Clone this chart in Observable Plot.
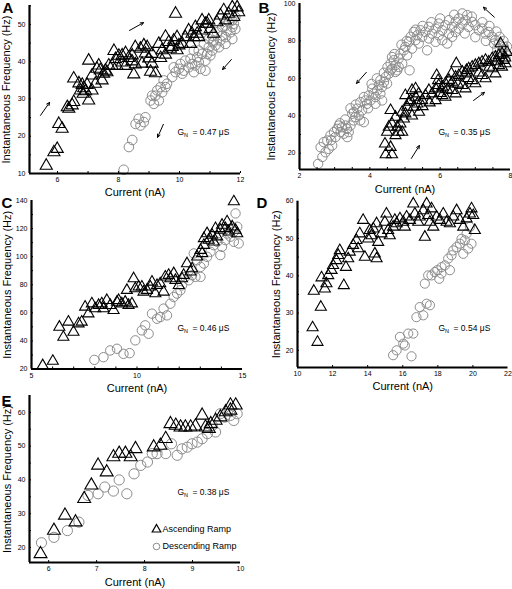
<!DOCTYPE html>
<html><head><meta charset="utf-8">
<script src="https://cdn.jsdelivr.net/npm/d3@7"></script>
<script src="https://cdn.jsdelivr.net/npm/@observablehq/plot@0.6"></script>
<style>
html,body{margin:0;padding:0;background:#fff;}
#chart{position:relative;width:512px;height:589px;overflow:hidden;background:#fff;}
</style></head><body><div id="chart"></div>
<script>
// ---------- DATA ----------
const xLabel = "Current (nA)";
const yLabel = "Instantaneous Frequency (Hz)";
const legendLabels = ["Ascending Ramp", "Descending Ramp"];
const panelLetters = ["A", "B", "C", "D", "E"];
const gnValues = ["0.47", "0.35", "0.46", "0.54", "0.38"];

// Panel A
const aAscending = [[5.63,12.1],[5.88,15.7],[5.99,16.6],[6.04,23.3],[6.15,22.0],[6.32,27.8],[6.37,27.4],[6.48,28.3],[6.53,29.2],[6.53,35.5],[6.70,34.2],[6.81,33.8],[6.86,32.9],[6.97,33.8],[6.92,32.1],[6.75,32.3],[6.84,31.4],[7.02,29.6],[7.02,40.3],[7.13,36.3],[7.29,38.1],[7.40,37.7],[7.51,36.8],[7.62,37.2],[7.35,39.0],[7.79,38.9],[7.90,40.7],[7.85,42.9],[8.01,41.6],[8.12,39.8],[8.23,38.9],[7.95,38.9],[8.23,42.3],[8.33,41.0],[8.44,40.1],[8.55,39.3],[8.50,36.6],[8.72,43.5],[8.83,44.4],[8.88,42.2],[8.99,40.9],[9.10,39.5],[9.05,37.3],[9.21,36.9],[8.77,39.5],[9.32,44.8],[9.43,43.1],[9.54,46.7],[9.65,45.3],[9.76,44.0],[9.92,43.1],[9.98,44.4],[9.38,41.0],[9.54,41.9],[9.87,52.9],[10.19,46.6],[10.30,48.4],[10.41,47.5],[10.52,49.3],[10.63,46.6],[10.74,48.4],[10.85,50.2],[10.96,51.1],[11.01,48.8],[11.12,47.5],[11.23,50.6],[11.34,52.4],[11.45,53.8],[11.51,51.1],[11.61,52.9],[11.73,54.6],[11.78,52.0],[11.89,54.6],[11.94,53.3],[10.09,44.8],[9.81,45.7],[9.92,46.6],[9.70,43.5],[9.10,42.1],[8.94,43.9],[8.55,43.9],[8.45,41.7],[8.12,41.7],[7.68,39.0],[7.57,37.6],[7.46,35.0],[7.24,34.1],[7.13,32.3],[10.74,51.1],[10.91,50.2],[10.47,46.6],[10.36,44.8],[10.58,47.5]];
const aDescending = [[8.17,11.0],[8.34,17.1],[8.45,19.0],[8.66,24.7],[8.83,23.8],[8.72,22.9],[8.56,23.3],[8.88,25.1],[9.05,29.6],[9.21,30.9],[9.32,29.6],[9.16,28.7],[9.27,32.3],[9.10,30.9],[9.43,31.8],[9.54,33.2],[9.48,35.0],[9.59,34.1],[9.38,33.2],[9.76,35.9],[9.87,37.2],[9.81,38.5],[9.98,38.1],[10.09,36.8],[10.03,39.4],[10.19,40.3],[10.14,37.6],[10.30,38.5],[10.41,39.4],[10.36,40.8],[10.52,39.0],[10.63,39.9],[10.58,41.2],[10.74,42.1],[10.69,38.1],[10.85,40.3],[10.91,42.1],[11.01,41.7],[10.96,43.9],[11.07,43.0],[11.18,44.4],[11.12,45.7],[11.29,43.9],[11.34,45.7],[11.40,47.0],[11.51,46.6],[11.56,48.4],[11.67,47.9],[11.73,49.3],[11.78,50.2],[11.83,48.8],[11.51,44.8],[11.73,46.1],[10.85,37.6],[10.47,37.2],[10.47,43.0],[10.63,43.0],[10.80,44.8],[10.96,46.1],[11.07,47.0],[11.23,47.9],[11.40,49.3],[11.51,49.7],[11.62,50.6],[11.73,51.1],[11.83,52.0],[11.11,45.2]];
const aArrows = [[5.44,25.6,5.74,29.1],[8.36,48.4,8.82,50.5],[11.70,40.6,11.41,37.9],[9.47,23.2,9.28,19.7]];

// Panel B
const bAscending = [[4.43,25.0],[4.45,19.3],[4.59,23.2],[4.63,19.3],[4.49,31.3],[4.73,29.5],[4.82,31.3],[4.78,34.0],[4.87,35.7],[4.92,31.3],[4.97,38.4],[5.01,41.1],[4.92,42.0],[5.06,44.7],[5.11,47.3],[5.01,50.9],[5.20,53.6],[5.30,54.5],[5.16,48.2],[5.39,51.8],[5.49,48.2],[5.25,44.7],[5.35,46.4],[5.58,50.9],[5.68,53.6],[5.77,51.8],[5.87,54.5],[5.96,56.3],[6.06,55.4],[6.15,57.2],[6.25,59.0],[6.34,58.0],[6.44,60.7],[6.53,61.6],[6.63,63.4],[6.72,62.5],[6.81,65.2],[6.91,66.1],[7.00,67.0],[7.10,67.9],[7.19,68.8],[7.29,69.7],[7.38,68.8],[7.48,70.6],[7.57,71.4],[7.67,72.3],[7.76,73.2],[7.72,78.6],[7.81,69.7],[5.90,61.6],[5.94,58.9],[6.46,67.9],[6.75,64.3],[6.32,62.5],[5.87,48.2],[6.15,50.0],[6.44,51.8],[6.72,54.5],[7.00,57.2],[7.29,59.9],[7.57,62.5],[7.76,66.1],[7.86,67.9],[6.06,50.9],[6.34,53.6],[6.63,56.3],[6.91,58.9],[7.19,61.6],[7.48,65.2],[7.67,67.0],[4.59,42.9],[4.73,39.3],[4.63,35.7],[4.54,34.0],[5.50,45.0],[5.70,47.0],[6.00,52.0],[6.20,54.0],[6.50,57.0],[6.80,60.0],[7.10,63.0],[7.40,66.0],[7.60,69.0],[7.85,71.0],[7.90,74.0],[5.40,42.0],[5.20,40.0],[5.30,50.0]];
const bDescending = [[2.53,14.3],[2.60,23.2],[2.74,20.5],[2.83,22.3],[2.69,25.9],[2.79,26.8],[2.93,24.1],[2.88,29.5],[2.98,31.3],[3.07,33.0],[3.12,34.8],[3.02,28.6],[3.21,33.9],[3.17,31.3],[3.26,30.4],[3.36,28.6],[3.40,31.3],[3.31,34.8],[3.45,34.8],[3.50,41.1],[3.59,39.3],[3.69,40.2],[3.78,42.9],[3.64,43.8],[3.54,37.5],[3.73,37.5],[3.83,36.6],[3.73,47.3],[3.83,50.0],[3.88,48.2],[3.97,50.9],[3.92,46.4],[4.02,48.2],[4.11,51.8],[4.07,54.5],[4.16,50.0],[4.21,53.6],[4.26,56.3],[4.35,55.4],[4.30,59.0],[4.40,58.0],[4.45,60.7],[4.49,57.2],[4.16,46.4],[4.30,51.8],[4.35,48.2],[4.54,62.5],[4.63,65.2],[4.59,67.9],[4.73,67.0],[4.68,69.7],[4.78,64.3],[4.82,70.6],[4.92,67.9],[4.87,73.2],[4.97,75.0],[5.06,72.3],[5.01,76.8],[5.11,79.5],[5.20,75.9],[5.16,82.2],[5.30,80.4],[5.25,84.8],[5.35,83.0],[5.39,78.6],[5.44,85.7],[5.49,82.2],[4.63,71.4],[4.82,66.1],[4.73,63.4],[4.59,64.3],[5.13,64.3],[5.58,84.8],[5.68,87.5],[5.77,83.9],[5.87,86.6],[5.96,89.3],[6.06,85.7],[6.15,88.4],[6.25,91.1],[6.34,87.5],[6.44,90.2],[6.53,92.0],[6.63,89.3],[6.72,91.1],[6.77,93.8],[6.63,94.7],[6.53,86.6],[6.25,83.9],[5.96,83.0],[6.34,82.2],[6.06,80.4],[5.87,79.5],[5.68,81.3],[6.20,78.6],[6.44,84.8],[6.81,87.5],[6.91,90.2],[7.00,88.4],[7.10,85.7],[7.19,86.6],[7.29,83.9],[7.38,84.8],[7.48,82.2],[7.57,80.4],[7.67,78.6],[7.62,75.9],[7.72,73.2],[7.76,75.0],[7.81,76.8],[7.69,82.2],[7.53,78.6],[7.86,73.2],[7.86,70.6],[5.63,75.0],[3.30,38.0],[3.45,44.0],[3.60,46.0],[3.95,44.0],[4.05,57.0],[4.20,60.0],[4.40,63.0],[4.50,66.0],[4.70,73.0],[4.90,78.0],[5.05,80.0],[5.30,86.0],[5.50,88.0],[5.75,90.0],[6.00,92.0],[6.40,94.0],[6.90,93.0],[7.20,90.0],[7.40,88.0],[7.60,85.0],[7.80,80.0],[7.90,77.0],[7.30,80.0],[7.00,82.0],[6.70,84.0],[2.65,18.0],[2.90,27.0],[3.15,36.0],[3.35,33.0],[3.55,42.0]];
const bArrows = [[7.54,92.7,7.23,98.0],[3.90,63.2,3.62,57.3],[6.95,48.2,7.26,52.5],[5.18,17.2,5.41,24.1]];

// Panel C
const cAscending = [[5.53,22.5],[6.01,25.6],[6.32,49.9],[6.51,42.7],[6.75,53.5],[6.99,46.3],[7.23,52.3],[7.38,53.5],[7.54,64.2],[7.70,59.4],[7.86,66.5],[8.02,63.0],[8.18,65.4],[8.33,66.5],[8.41,63.0],[8.57,68.9],[8.73,65.4],[8.89,61.8],[9.05,67.7],[9.13,68.9],[9.28,66.5],[9.44,67.7],[9.60,65.4],[9.76,66.5],[9.52,76.1],[9.84,84.4],[9.92,77.3],[10.08,78.5],[10.23,78.5],[10.31,74.9],[10.47,76.1],[10.63,78.5],[10.71,82.0],[10.87,73.7],[10.95,79.6],[11.10,80.8],[11.26,74.9],[11.34,85.6],[11.50,86.8],[11.58,84.4],[11.74,88.0],[11.82,83.2],[11.98,79.6],[12.13,84.4],[12.21,86.8],[12.37,95.1],[12.53,89.2],[12.61,91.5],[12.85,99.9],[13.01,104.6],[13.17,108.2],[13.09,102.3],[13.32,116.5],[13.40,111.8],[13.56,115.4],[13.72,120.1],[13.80,114.2],[13.95,118.9],[14.03,122.5],[14.19,120.1],[14.27,124.9],[14.35,117.7],[14.51,121.3],[14.59,139.2],[14.67,118.9],[14.75,116.5],[13.17,113.0],[13.64,110.6]];
const cDescending = [[7.98,26.5],[8.41,28.4],[8.73,33.2],[9.05,34.4],[9.36,30.8],[9.65,31.3],[9.92,40.4],[10.23,47.5],[10.39,51.1],[10.55,45.1],[10.71,59.4],[10.95,55.8],[11.10,57.0],[11.26,63.0],[11.42,58.2],[11.58,66.5],[11.74,71.3],[11.90,73.7],[12.06,76.1],[12.13,79.6],[12.29,85.6],[12.45,83.2],[12.61,86.8],[12.77,85.6],[13.01,85.6],[12.69,102.3],[12.85,97.5],[13.01,92.7],[13.17,95.1],[13.32,99.9],[13.48,103.5],[13.64,108.2],[13.80,110.6],[13.95,101.1],[14.03,107.0],[14.19,111.8],[14.27,116.5],[14.43,114.2],[14.59,110.6],[14.67,130.8],[14.75,121.3],[14.82,109.4],[14.59,117.7]];

// Panel D
const dAscending = [[10.86,26.1],[11.14,22.2],[11.33,31.6],[10.93,35.9],[11.37,39.5],[11.56,36.5],[11.65,37.9],[11.75,40.1],[11.94,41.5],[12.03,42.8],[12.22,44.1],[12.32,45.5],[12.41,46.8],[12.64,37.4],[12.76,42.3],[12.89,44.6],[12.98,46.4],[13.17,48.2],[13.36,49.5],[13.46,47.3],[13.55,51.3],[13.74,54.9],[13.84,45.0],[14.03,49.9],[14.12,52.2],[14.22,50.8],[14.41,45.9],[14.51,44.6],[14.60,49.0],[14.79,51.3],[14.98,54.4],[15.07,56.6],[15.17,52.2],[15.26,50.8],[15.45,53.1],[15.65,54.0],[15.84,55.3],[16.03,54.4],[16.22,55.8],[16.41,54.9],[16.60,59.3],[16.69,56.6],[16.88,54.4],[16.97,55.8],[17.17,57.5],[17.26,50.4],[17.36,59.3],[17.45,56.2],[17.55,54.4],[17.64,58.0],[17.74,53.1],[17.93,55.8],[18.12,54.9],[18.31,56.6],[18.50,54.4],[18.69,54.0],[18.88,55.8],[19.07,57.5],[19.26,54.9],[19.45,53.1],[19.64,55.3],[19.83,56.6],[19.92,58.0],[20.02,56.2],[20.11,52.2],[16.12,53.1],[15.55,54.9],[14.51,54.0],[14.32,52.6]];
const dDescending = [[15.45,18.7],[15.65,20.0],[15.84,23.6],[16.03,21.8],[16.31,24.5],[16.12,21.3],[16.50,18.4],[16.60,24.5],[16.78,28.9],[16.97,31.6],[17.17,29.4],[17.36,32.5],[17.55,32.1],[17.26,37.9],[17.45,40.1],[17.64,40.1],[17.83,41.0],[17.97,41.5],[18.21,42.3],[18.40,42.8],[18.59,44.6],[18.78,45.5],[18.88,46.8],[19.07,47.7],[19.26,48.6],[19.35,49.9],[19.54,49.5],[19.64,51.3],[19.83,53.1],[19.92,48.6],[19.73,47.3],[19.45,45.9],[18.69,41.5],[18.21,40.6],[18.08,39.2]];

// Panel E
const eAscending = [[5.83,18.1],[6.11,25.0],[6.34,29.5],[6.56,27.5],[6.74,34.4],[6.89,38.4],[7.03,44.3],[7.21,42.3],[7.35,46.8],[7.47,47.8],[7.60,47.8],[7.71,46.8],[7.81,49.2],[8.19,49.7],[8.33,50.2],[8.44,52.2],[8.54,56.6],[8.65,56.1],[8.75,55.6],[8.85,55.6],[8.96,55.6],[9.06,55.9],[9.20,59.1],[9.27,55.6],[9.34,55.2],[9.38,56.6],[9.48,57.6],[9.58,58.6],[9.69,60.1],[9.79,60.6],[9.90,62.1],[9.79,62.1]];
const eDescending = [[5.85,21.4],[6.11,23.0],[6.39,25.0],[6.63,27.5],[6.82,35.4],[7.03,35.9],[7.17,37.9],[7.35,36.7],[7.47,40.0],[7.63,35.9],[7.78,41.8],[7.92,44.3],[8.06,45.3],[8.16,47.8],[8.26,47.8],[8.44,47.8],[8.56,50.7],[8.68,47.3],[8.78,49.2],[8.89,49.7],[8.99,50.7],[9.10,51.2],[9.20,52.2],[9.31,53.7],[9.41,56.1],[9.48,54.2],[9.58,59.6],[9.67,58.6],[9.79,59.1],[9.86,57.6],[9.93,59.6]];

// Axis ticks
const aXTicks = [6, 8, 10, 12], aXMinor = [6, 7, 8, 9, 10, 11, 12], aYTicks = [10, 20, 30, 40, 50], aYMinor = [15, 20, 25, 30, 35, 40, 45, 50, 55];
const bXTicks = [2, 4, 6, 8], bXMinor = [2.5, 3, 3.5, 4, 4.5, 5, 5.5, 6, 6.5, 7, 7.5], bYTicks = [20, 40, 60, 80, 100], bYMinor = [20, 30, 40, 50, 60, 70, 80, 90];
const cXTicks = [5, 10, 15], cXMinor = [6, 7, 8, 9, 10, 11, 12, 13, 14], cYTicks = [20, 40, 60, 80, 100, 120, 140], cYMinor = [30, 40, 50, 60, 70, 80, 90, 100, 110, 120, 130];
const dXTicks = [10, 12, 14, 16, 18, 20, 22], dXMinor = [12, 14, 16, 18, 20], dYTicks = [20, 30, 40, 50, 60], dYMinor = [20, 25, 30, 35, 40, 45, 50, 55];
const eXTicks = [6, 7, 8, 9, 10], eXMinor = [6, 7, 8, 9], eYTicks = [20, 30, 40, 50, 60], eYMinor = [20, 25, 30, 35, 40, 45, 50, 55, 60];

// ---------- DRAWING ----------
const FONT = "'Liberation Sans', Arial, Helvetica, sans-serif";
const W = 512, H = 589;
const GRAY = "#8c8c8c";
const fmt = d => String(d);

function panel(p) {
  const x0 = p.xDomain[0], y0 = p.yDomain[0];
  const tl = {frameAnchor: "top-left", textAnchor: "start", lineAnchor: "middle"};
  const marks = [
    Plot.dot(p.desc, {x: d => d[0], y: d => d[1], r: p.cr, stroke: GRAY, strokeWidth: 1, fill: "none"}),
    Plot.dot(p.asc, {x: d => d[0], y: d => d[1], symbol: "triangle", r: p.tr, stroke: "#000", strokeWidth: 1.1, fill: "none"}),
    Plot.axisX({ticks: p.xMinor, tickSize: 2, dy: -2, tickFormat: () => "", label: null, stroke: "#000"}),
    Plot.axisY({ticks: p.yMinor, tickSize: 2, dx: 2, tickFormat: () => "", label: null, stroke: "#000"}),
    Plot.axisX({ticks: p.xTicks, tickSize: 0, tickPadding: 4, tickFormat: fmt, fontSize: 7, label: null, fill: "#000"}),
    Plot.axisY({ticks: p.yTicks, tickSize: 0, tickPadding: 4, tickFormat: fmt, fontSize: 7, label: null, fill: "#000"}),
    Plot.ruleY([y0], {stroke: "#000", strokeWidth: 2.2}),
    Plot.ruleX([x0], {stroke: "#000", strokeWidth: 2.2}),
    Plot.text([xLabel], {text: d => d, frameAnchor: "bottom", textAnchor: "middle", lineAnchor: "middle", dy: p.xlabDy, fontSize: 11, fill: "#000"}),
    Plot.text([yLabel], {text: d => d, frameAnchor: "left", textAnchor: "middle", lineAnchor: "middle", dx: p.ylabDx, rotate: -90, fontSize: 11, fill: "#000"}),
    Plot.text([p.letter], {frameAnchor: "top-left", textAnchor: "start", text: d => d, dx: p.letterDx, dy: p.letterDy, lineAnchor: "top", fontSize: 15, fontWeight: "bold", fill: "#000"}),
    Plot.text(["G"], {...tl, text: d => d, dx: p.gnDx, dy: p.gnDy, fontSize: 8.5, fill: "#000"}),
    Plot.text(["N"], {...tl, text: d => d, dx: p.gnDx + 6.5, dy: p.gnDy + 3, fontSize: 5.5, fill: "#000"}),
    Plot.text([`= ${p.gn} \u03bcS`], {...tl, text: d => d, dx: p.gnDx + 15, dy: p.gnDy, fontSize: 8.5, fill: "#000"})
  ];
  if (p.arrows) {
    marks.push(Plot.arrow(p.arrows, {x1: d => d[0], y1: d => d[1], x2: d => d[2], y2: d => d[3], stroke: "#000", strokeWidth: 1, headLength: 5, headAngle: 50}));
  }
  if (p.legend) {
    marks.push(
      Plot.dot([legendLabels[0]], {frameAnchor: "top-left", dx: p.legend.dx, dy: p.legend.dy, symbol: "triangle", r: 3.2, stroke: "#000", strokeWidth: 1.2, fill: "none"}),
      Plot.dot([legendLabels[1]], {frameAnchor: "top-left", dx: p.legend.dx, dy: p.legend.dy + 17, r: 3.3, stroke: GRAY, strokeWidth: 1, fill: "none"}),
      Plot.text([legendLabels[0]], {...tl, text: d => d, dx: p.legend.dx + 6, dy: p.legend.dy, fontSize: 9, fill: "#000"}),
      Plot.text([legendLabels[1]], {...tl, text: d => d, dx: p.legend.dx + 6, dy: p.legend.dy + 17, fontSize: 9, fill: "#000"})
    );
  }
  return Plot.plot({
    width: W, height: H,
    marginLeft: p.box[0], marginRight: W - p.box[1], marginTop: p.box[2], marginBottom: H - p.box[3],
    x: {domain: p.xDomain},
    y: {domain: p.yDomain},
    style: {position: "absolute", left: "0px", top: "0px", background: "transparent", fontFamily: FONT, overflow: "visible", color: "#000"},
    marks
  });
}

const panels = [
  {letter: panelLetters[0], gn: gnValues[0], asc: aAscending, desc: aDescending, arrows: aArrows,
   xDomain: [5.08, 12], yDomain: [10, 55.1], box: [29, 240, 5, 173],
   xTicks: aXTicks, xMinor: aXMinor, yTicks: aYTicks, yMinor: aYMinor, tr: 4.5, cr: 4.8,
   xlabDy: 19, ylabDx: -23, letterDx: -27, letterDy: -3, gnDx: 148, gnDy: 127},
  {letter: panelLetters[1], gn: gnValues[1], asc: bAscending, desc: bDescending, arrows: bArrows,
   xDomain: [2, 8], yDomain: [11.3, 100], box: [299, 510, 3, 169],
   xTicks: bXTicks, xMinor: bXMinor, yTicks: bYTicks, yMinor: bYMinor, tr: 4.1, cr: 4.7,
   xlabDy: 20, ylabDx: -28, letterDx: -41, letterDy: -1, gnDx: 139, gnDy: 129},
  {letter: panelLetters[2], gn: gnValues[2], asc: cAscending, desc: cDescending,
   xDomain: [5, 15], yDomain: [20, 140], box: [31, 242, 200, 368.5],
   xTicks: cXTicks, xMinor: cXMinor, yTicks: cYTicks, yMinor: cYMinor, tr: 4.1, cr: 4.7,
   xlabDy: 19, ylabDx: -24, letterDx: -30, letterDy: -3, gnDx: 146, gnDy: 128},
  {letter: panelLetters[3], gn: gnValues[3], asc: dAscending, desc: dDescending,
   xDomain: [10, 22], yDomain: [15.4, 60], box: [297, 507.5, 200.7, 367],
   xTicks: dXTicks, xMinor: dXMinor, yTicks: dYTicks, yMinor: dYMinor, tr: 4.1, cr: 4.6,
   xlabDy: 19, ylabDx: -21, letterDx: -41, letterDy: -4, gnDx: 141, gnDy: 127},
  {letter: panelLetters[4], gn: gnValues[4], asc: eAscending, desc: eDescending,
   xDomain: [5.6, 10], yDomain: [15.55, 65], box: [29, 240, 395, 562],
   xTicks: eXTicks, xMinor: eXMinor, yTicks: eYTicks, yMinor: eYMinor, tr: 4.8, cr: 5.1,
   xlabDy: 20, ylabDx: -22, letterDx: -28, letterDy: 0, gnDx: 148, gnDy: 97,
   legend: {dx: 127, dy: 134}}
];

const root = document.getElementById("chart");
for (const p of panels) root.appendChild(panel(p));
</script></body></html>
